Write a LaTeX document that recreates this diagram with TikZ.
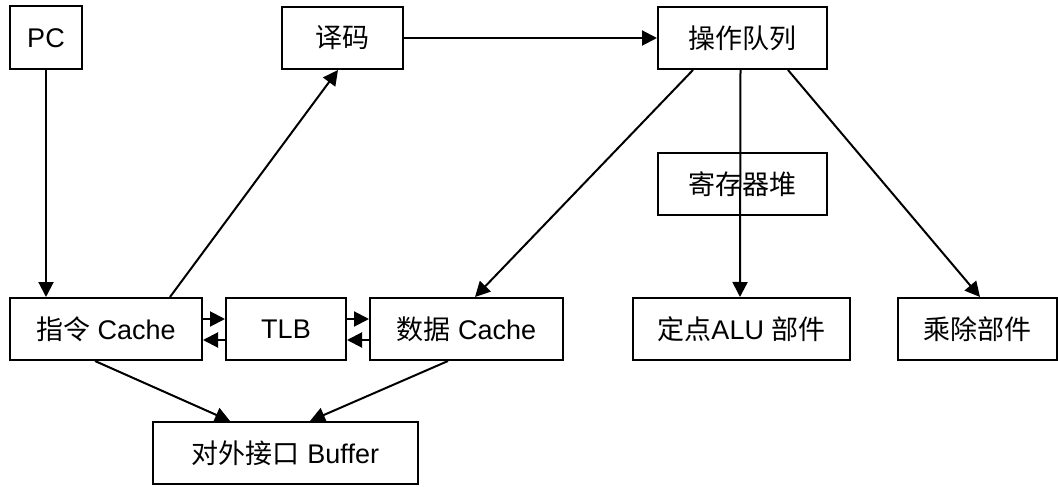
\documentclass[tikz,border=0pt]{standalone}
\usepackage{fontspec}
\setmainfont{Liberation Sans}
\newfontfamily\cjk{Noto Sans CJK SC}
\usetikzlibrary{arrows.meta}
\begin{document}
\begin{tikzpicture}[x=1pt,y=-1pt,
  box/.style={draw, line width=2pt, inner sep=0pt, minimum height=62pt,
    font=\fontsize{27}{31}\selectfont},
  arr/.style={line width=2pt, -{Triangle[length=15pt,width=15pt]}}]
\useasboundingbox (0,0) rectangle (1058,487);

% units
\node[box, minimum width=72pt, minimum height=63pt] (pc) at (46,38) {PC};
\node[box, minimum width=121pt] (ym) at (342.5,38) {\cjk 译码};
\node[box, minimum width=169pt] (cz) at (742.5,38) {\cjk 操作队列};
\node[box, minimum width=169pt] (jc) at (742.5,184) {\cjk 寄存器堆};
\node[box, minimum width=192pt] (zl) at (106,329) {{\cjk 指令} Cache};
\node[box, minimum width=120pt] (tlb) at (286,329) {TLB};
\node[box, minimum width=193pt] (sj) at (466.5,329) {{\cjk 数据} Cache};
\node[box, minimum width=217pt] (alu) at (741.5,329) {{\cjk 定点}ALU {\cjk 部件}};
\node[box, minimum width=159pt] (cc) at (977,329) {\cjk 乘除部件};
\node[box, minimum width=265pt] (buf) at (285.5,453) {{\cjk 对外接口} Buffer};

% fetch and decode
\draw[arr] (pc) -- (pc |- zl.north);
\draw[arr] ([xshift=64pt]zl.north) -- ([xshift=-4.5pt]ym.south);
\draw[arr] (ym) -- (cz);

% issue from the operation queue
\draw[arr] ([xshift=-49.5pt]cz.south) -- ([xshift=8.5pt]sj.north);
\draw[arr] ([xshift=-2pt]cz.south) -- ([xshift=-1.5pt]alu.north);
\draw[arr] ([xshift=45.5pt]cz.south) -- ([xshift=3pt]cc.north);

% caches and TLB
\draw[arr] ([yshift=10pt]zl.east) -- ([yshift=10pt]tlb.west);
\draw[arr] ([yshift=-11pt]tlb.west) -- ([yshift=-11pt]zl.east);
\draw[arr] ([yshift=10pt]tlb.east) -- ([yshift=10pt]sj.west);
\draw[arr] ([yshift=-11pt]sj.west) -- ([yshift=-11pt]tlb.east);

% external interface
\draw[arr] ([xshift=-11pt]zl.south) -- ([xshift=-55.5pt]buf.north);
\draw[arr] ([xshift=-18.5pt]sj.south) -- ([xshift=24.5pt]buf.north);
\end{tikzpicture}
\end{document}
